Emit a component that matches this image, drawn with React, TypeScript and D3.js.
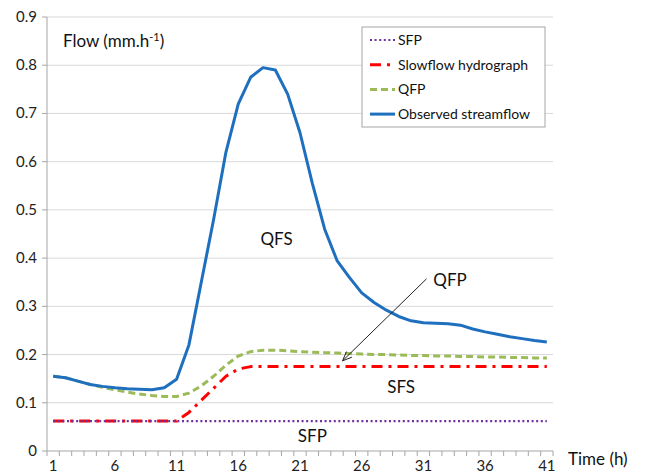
import React from "react";
import * as d3 from "d3";

const hours = d3.range(1, 42);

const observed = [
  0.155, 0.152, 0.145, 0.138, 0.134, 0.131, 0.129, 0.128, 0.127, 0.131,
  0.149, 0.22, 0.35, 0.48, 0.62, 0.72, 0.775, 0.795, 0.79, 0.74,
  0.66, 0.555, 0.46, 0.395, 0.36, 0.328, 0.308, 0.292, 0.279, 0.27,
  0.266, 0.265, 0.264, 0.261, 0.253, 0.247, 0.242, 0.237, 0.233, 0.229,
  0.226,
];

const qfp = [
  0.155, 0.152, 0.145, 0.138, 0.132, 0.127, 0.122, 0.118, 0.115, 0.113,
  0.113, 0.12, 0.135, 0.155, 0.178, 0.197, 0.206, 0.209, 0.209, 0.208,
  0.206, 0.205, 0.204, 0.203, 0.202, 0.201, 0.2, 0.2, 0.199, 0.198,
  0.198, 0.197, 0.197, 0.196, 0.196, 0.195, 0.195, 0.194, 0.194, 0.193,
  0.193,
];

const slowflow = [
  0.062, 0.062, 0.062, 0.062, 0.062, 0.062, 0.062, 0.062, 0.062, 0.062,
  0.062, 0.08, 0.105, 0.13, 0.155, 0.17, 0.175, 0.175, 0.175, 0.175,
  0.175, 0.175, 0.175, 0.175, 0.175, 0.175, 0.175, 0.175, 0.175, 0.175,
  0.175, 0.175, 0.175, 0.175, 0.175, 0.175, 0.175, 0.175, 0.175, 0.175,
  0.175,
];

const sfp = hours.map(() => 0.062);

const yTicks = [0, 0.1, 0.2, 0.3, 0.4, 0.5, 0.6, 0.7, 0.8, 0.9];
const xTickLabels = [1, 6, 11, 16, 21, 26, 31, 36, 41];

const legendNames = ["SFP", "Slowflow hydrograph", "QFP", "Observed streamflow"];

const FONT = "Lato, 'Open Sans', sans-serif";

export default function App() {
  const W = 646;
  const H = 475;
  const left = 47;
  const right = 553;
  const top = 17;
  const bottom = 451;

  const x = d3.scaleLinear().domain([0.5, 41.5]).range([left, right]);
  const y = d3.scaleLinear().domain([0, 0.9]).range([bottom, top]);

  const line = d3
    .line<number>()
    .x((_, i) => x(hours[i]))
    .y((d) => y(d));

  const series = [
    { name: legendNames[0], data: sfp, color: "#7030A0", width: 2.2, dash: "2,2.6" },
    { name: legendNames[1], data: slowflow, color: "#FF0000", width: 3, dash: "11,6,3,6" },
    { name: legendNames[2], data: qfp, color: "#9BBB59", width: 3, dash: "7,4" },
    { name: legendNames[3], data: observed, color: "#1F6FBF", width: 3, dash: "" },
  ];
  const drawOrder = [series[2], series[1], series[0], series[3]];

  const boundaries = d3.range(0.5, 42, 1);

  // annotations (data coordinates)
  const arrowFrom = { h: 31.25, v: 0.357 };
  const arrowTo = { h: 24.45, v: 0.187 };
  const ax1 = x(arrowFrom.h), ay1 = y(arrowFrom.v);
  const ax2 = x(arrowTo.h), ay2 = y(arrowTo.v);
  const ang = Math.atan2(ay1 - ay2, ax1 - ax2);
  const hl = 10, ha = 0.4;
  const head1 = [ax2 + hl * Math.cos(ang + ha), ay2 + hl * Math.sin(ang + ha)];
  const head2 = [ax2 + hl * Math.cos(ang - ha), ay2 + hl * Math.sin(ang - ha)];

  const legX = 362, legY = 27, legW = 183, legH = 100;

  return (
    <svg
      width={W}
      height={H}
      style={{ position: "absolute", left: 0, top: 0, background: "#fff" }}
      fontFamily={FONT}
    >
      <rect x={0} y={0} width={W} height={H} fill="#fff" />
      {/* gridlines */}
      {yTicks.slice(1).map((t) => (
        <line key={t} x1={left} x2={right} y1={y(t)} y2={y(t)} stroke="#D9D9D9" strokeWidth={1} />
      ))}
      {/* y axis */}
      <line x1={left} x2={left} y1={top} y2={bottom} stroke="#A6A6A6" strokeWidth={1} />
      {yTicks.map((t) => (
        <g key={"yt" + t}>
          <line x1={left - 5} x2={left} y1={y(t)} y2={y(t)} stroke="#A6A6A6" />
          <text x={37} y={y(t) + 5} textAnchor="end" fontSize={15} fill="#222">
            {t === 0 ? "0" : t.toFixed(1)}
          </text>
        </g>
      ))}
      {/* x axis */}
      <line x1={left} x2={right} y1={bottom} y2={bottom} stroke="#A6A6A6" strokeWidth={1} />
      {boundaries.map((b) => (
        <line key={"xb" + b} x1={x(b)} x2={x(b)} y1={bottom} y2={bottom + 5} stroke="#A6A6A6" />
      ))}
      {xTickLabels.map((h) => (
        <text key={"xl" + h} x={x(h)} y={471} textAnchor="middle" fontSize={15} fill="#222">
          {h}
        </text>
      ))}

      {/* series */}
      {drawOrder.map((s) => (
        <path
          key={s.name}
          d={line(s.data) || ""}
          fill="none"
          stroke={s.color}
          strokeWidth={s.width}
          strokeDasharray={s.dash || undefined}
          strokeLinejoin="round"
        />
      ))}

      {/* annotations */}
      <text x={x(19.1)} y={y(0.427)} textAnchor="middle" fontSize={17} fill="#111">QFS</text>
      <text x={x(29.2)} y={y(0.12)} textAnchor="middle" fontSize={17} fill="#111">SFS</text>
      <text x={x(22.0)} y={y(0.019)} textAnchor="middle" fontSize={17} fill="#111">SFP</text>
      <text x={x(31.8)} y={y(0.342)} fontSize={17} fill="#111">QFP</text>
      <line x1={ax1} y1={ay1} x2={ax2} y2={ay2} stroke="#222" strokeWidth={1} />
      <polyline
        points={`${head1[0]},${head1[1]} ${ax2},${ay2} ${head2[0]},${head2[1]}`}
        fill="none"
        stroke="#222"
        strokeWidth={1}
      />

      {/* axis titles */}
      <text x={63} y={47} fontSize={17} fill="#111">
        Flow (mm.h
        <tspan dy={-6} fontSize={11}>-1</tspan>
        <tspan dy={6}>)</tspan>
      </text>
      <text x={568} y={465} fontSize={17} fill="#111">Time (h)</text>

      {/* legend */}
      <rect x={legX} y={legY} width={legW} height={legH} fill="#fff" stroke="#A6A6A6" strokeWidth={1} />
      {series.map((s, i) => {
        const cy = legY + 13 + i * 24.7;
        return (
          <g key={"lg" + s.name}>
            <line
              x1={370}
              x2={395}
              y1={cy}
              y2={cy}
              stroke={s.color}
              strokeWidth={s.width}
              strokeDasharray={s.dash || undefined}
            />
            <text x={398} y={cy + 5} fontSize={14} fill="#111">
              {s.name}
            </text>
          </g>
        );
      })}
    </svg>
  );
}
